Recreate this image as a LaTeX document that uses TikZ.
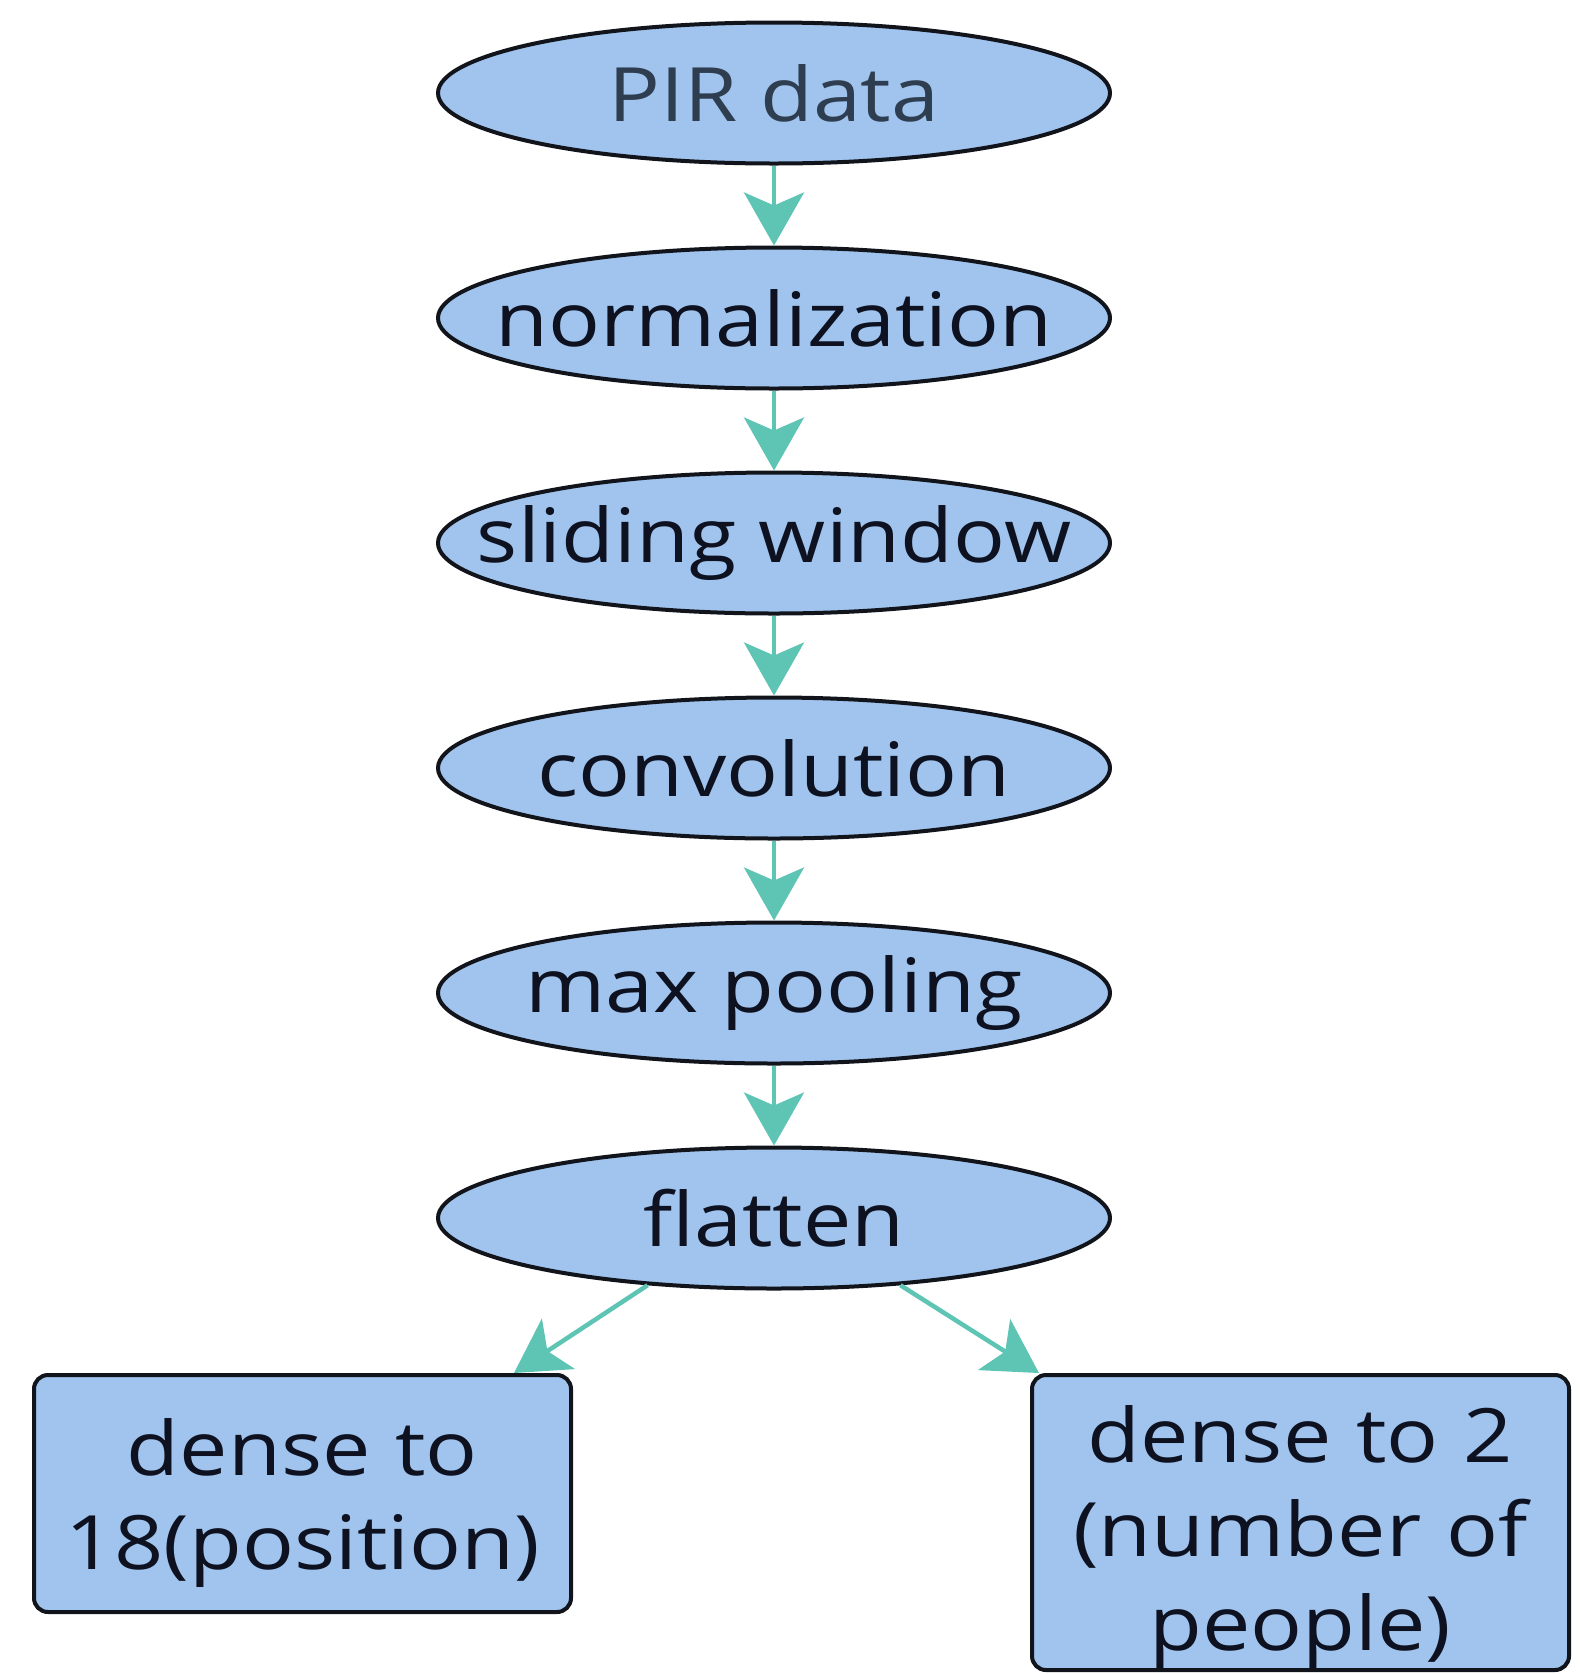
\documentclass[tikz,border=0pt]{standalone}
\usepackage{fontspec}
\setmainfont{Open Sans}[FakeStretch=1.15]
\usepackage{tikz}
\usetikzlibrary{arrows.meta,positioning,shapes.geometric}
\definecolor{stageblue}{RGB}{160,196,238}
\definecolor{flowteal}{RGB}{94,196,180}
\definecolor{edgeblack}{RGB}{18,20,28}
\definecolor{inkdark}{RGB}{14,18,32}
\definecolor{inkslate}{RGB}{46,62,80}
\newcommand{\stagefont}{\fontsize{75}{94}\selectfont}
\tikzset{
    %Define standard arrow tip
    >={Stealth[length=53pt,width=60pt,inset=13pt]},
    %Define style for ellipses
    stage/.style={
           ellipse,
           draw=edgeblack, line width=4pt,
           fill=stageblue,
           minimum width=672pt,
           minimum height=141pt,
           inner sep=0pt,
           font=\stagefont,
           text=inkdark},
    %Define style for output boxes
    dense/.style={
           rectangle,
           rounded corners=14pt,
           draw=edgeblack, line width=4pt,
           fill=stageblue,
           minimum width=537pt,
           text width=517pt,
           inner sep=0pt,
           align=center,
           font=\stagefont,
           text=inkdark},
    % Define arrow style
    pil/.style={
           ->,
           color=flowteal,
           line width=4.5pt}
}
\begin{document}
\begin{tikzpicture}[x=1pt,y=1pt,node distance=80pt]
\useasboundingbox (0,0) rectangle (1584,-1674);
\node[stage, text=inkslate] (pir) at (774,-93) {\makebox[0pt]{PIR data}};
\node[stage, below=of pir] (norm) {\makebox[0pt]{normalization}};
\node[stage, below=of norm] (slide) {\makebox[0pt]{sliding window}};
\node[stage, below=of slide] (conv) {\makebox[0pt]{convolution}};
\node[stage, below=of conv] (pool) {\makebox[0pt]{max pooling}};
\node[stage, below=of pool] (flat) {\makebox[0pt]{flatten}};
\node[dense, minimum height=237pt] (pos) at (302.5,-1493.5) {\rule{0pt}{75pt}dense to\\18(position)};
\node[dense, minimum height=295pt] (people) at (1300.5,-1522.5) {\rule{0pt}{85pt}dense to 2\\(number of\\people)};
\draw[pil] (pir) -- (norm);
\draw[pil] (norm) -- (slide);
\draw[pil] (slide) -- (conv);
\draw[pil] (conv) -- (pool);
\draw[pil] (pool) -- (flat);
\draw[pil] (flat.208) -- ([xshift=-59pt]pos.north east);
\draw[pil] (flat.332) -- ([xshift=9pt]people.north west);
\end{tikzpicture}
\end{document}
